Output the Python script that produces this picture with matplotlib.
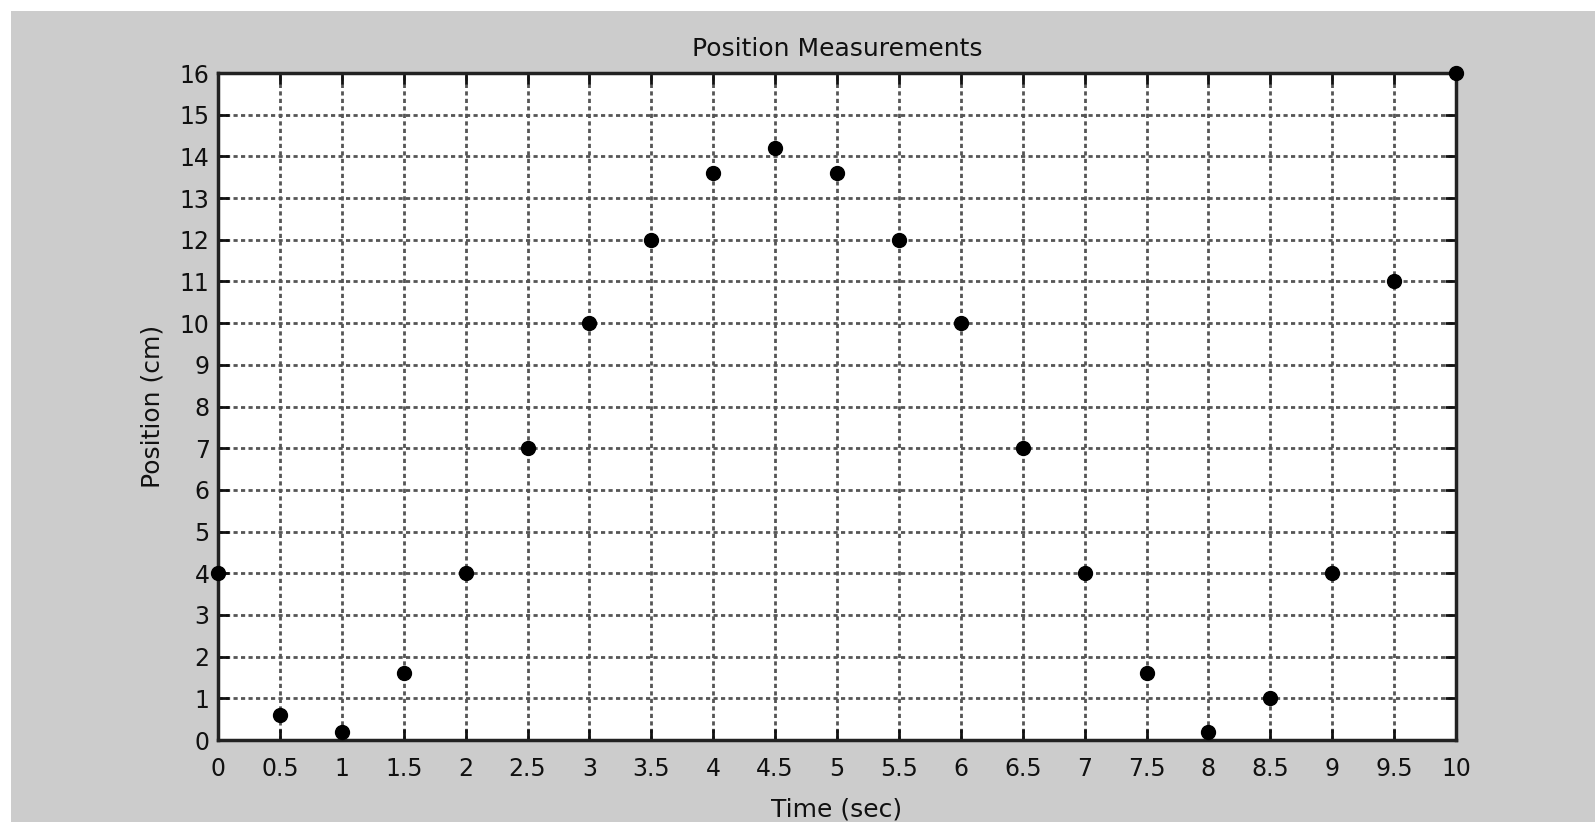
import numpy as np
import matplotlib
matplotlib.use('Agg')
import matplotlib.pyplot as plt
from matplotlib.patches import Rectangle

# datos
tiempo = [0, 0.5, 1, 1.5, 2, 2.5, 3, 3.5, 4, 4.5, 5, 5.5, 6, 6.5, 7, 7.5, 8, 8.5, 9, 9.5, 10]
posicion = [4, 0.6, 0.2, 1.6, 4, 7, 10, 12, 13.6, 14.2, 13.6, 12, 10, 7, 4, 1.6, 0.2, 1, 4, 11, 16]
x_ticks = np.arange(0, 10.5, 0.5)
x_tick_labels = ['0', '0.5', '1', '1.5', '2', '2.5', '3', '3.5', '4', '4.5', '5',
                 '5.5', '6', '6.5', '7', '7.5', '8', '8.5', '9', '9.5', '10']
y_ticks = list(range(0, 17))

plt.rcParams['font.family'] = ['DejaVu Sans']

fig = plt.figure(figsize=(15.95, 8.22), dpi=100, facecolor='white')
# fondo gris con un borde blanco arriba y a la izquierda
fig.patches.append(Rectangle((11 / 1595, 0), 1, 1 - 11 / 822, transform=fig.transFigure,
                             facecolor='#cccccc', edgecolor='none', zorder=-1))

ax = fig.add_axes([218 / 1595, 1 - 740 / 822, (1456 - 218) / 1595, (740 - 73) / 822])
ax.set_facecolor('white')
ax.plot(tiempo, posicion, 'o', color='black', markersize=10, clip_on=False, zorder=3)

ax.set_xlim(0, 10)
ax.set_ylim(0, 16)
ax.set_xticks(x_ticks)
ax.set_xticklabels(x_tick_labels)
ax.set_yticks(y_ticks)
ax.tick_params(direction='in', length=8, width=2, top=True, right=True,
               labelsize=17, colors='#111111')
ax.tick_params(axis='x', pad=12)
ax.tick_params(axis='y', pad=6)
for s in ax.spines.values():
    s.set_linewidth(2.5)
    s.set_color('#222222')

ax.grid(True, color='#555555', linewidth=2, linestyle=(0, (1.5, 1.2)))
ax.set_axisbelow(True)

ax.set_title('Position Measurements', fontsize=18, pad=12, color='#111111')
ax.set_xlabel('Time (sec)', fontsize=18, labelpad=12, color='#111111')
ax.set_ylabel('Position (cm)', fontsize=18, labelpad=11, color='#111111')

fig.savefig('out.png', dpi=100, facecolor=fig.get_facecolor())
